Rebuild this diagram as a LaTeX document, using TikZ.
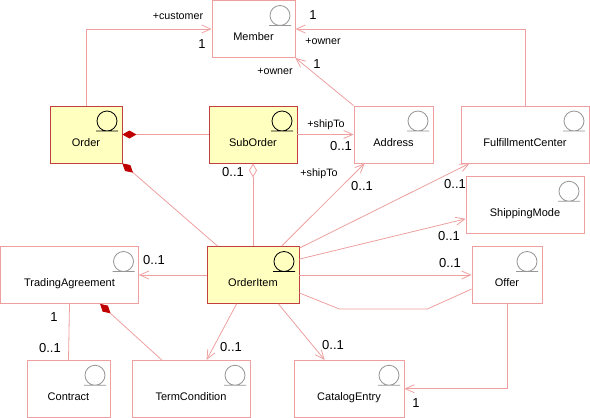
\documentclass[tikz,border=0pt]{standalone}
\usepackage{fontspec}
\setmainfont{Liberation Sans}
\usepackage{tikz}
\usetikzlibrary{arrows.meta,calc}
\definecolor{linkpink}{RGB}{238,160,160}
\definecolor{entyellow}{RGB}{255,255,192}
\definecolor{entborder}{RGB}{192,64,64}
\definecolor{aggred}{RGB}{192,0,0}
\definecolor{icongray}{RGB}{150,150,150}

\begin{document}
\begin{tikzpicture}[x=1pt,y=-1pt,line width=0.8pt]

        \tikzstyle{icon}=[draw=icongray]
        \tikzstyle{entity}=[draw=linkpink, fill=white, minimum height=57pt, inner sep=0pt,
          text height=23pt, text depth=0pt, font=\fontsize{11}{13}\selectfont,
          path picture={\draw[icon] ([xshift=-15pt,yshift=-15pt]path picture bounding box.north east) circle (10pt) ++(-11pt,-10pt) -- ++(22pt,0pt);}]
        \tikzstyle{mainentity}=[entity, draw=entborder, fill=entyellow, icon/.style={draw=black}]
        \tikzstyle{role}=[font=\fontsize{10.7}{12}\selectfont, inner sep=0pt]
        \tikzstyle{mult}=[font=\fontsize{13}{15}\selectfont, inner sep=0pt]
        \tikzstyle{link}=[draw=linkpink]
        \tikzstyle{nav}=[link, -{Straight Barb[length=9pt,width=8pt]}]
        \tikzstyle{comp}=[link, -{Diamond[length=14pt,width=8pt,color=aggred,fill=aggred]}]
        \tikzstyle{aggr}=[link, {Diamond[open,length=14pt,width=8pt]}-]

        \useasboundingbox (0,0) rectangle (590,418);

        \node[entity, minimum width=83pt] (Member) at (253.5,29) {Member};
        \node[mainentity, minimum width=72pt] (Order) at (86,134.5) {Order};
        \node[mainentity, minimum width=88pt] (SubOrder) at (253,134.5) {SubOrder};
        \node[entity, minimum width=79pt] (Address) at (393.5,134.5) {Address};
        \node[entity, minimum width=128pt] (FulfillmentCenter) at (525,134.5) {FulfillmentCenter};
        \node[entity, minimum width=118pt] (ShippingMode) at (525,204.75) {ShippingMode};
        \node[entity, minimum width=138pt] (TradingAgreement) at (69.5,275) {TradingAgreement};
        \node[mainentity, minimum width=92pt] (OrderItem) at (253,275) {OrderItem};
        \node[entity, minimum width=70pt] (Offer) at (507,275) {Offer};
        \node[entity, minimum width=83pt] (Contract) at (68.5,388.75) {Contract};
        \node[entity, minimum width=118pt] (TermCondition) at (191,388.75) {TermCondition};
        \node[entity, minimum width=110pt] (CatalogEntry) at (349,388.75) {CatalogEntry};

        \draw[nav] (Order.north) |- (Member.west);
        \draw[comp] (SubOrder.west) -- (Order.east);
        \draw[comp] ([xshift=11pt]OrderItem.north west) -- (Order.south east);
        \draw[aggr] (SubOrder.south) -- (OrderItem.north);
        \draw[nav] (SubOrder.east) -- (Address.west);
        \draw[nav] (Address.north west) -- (Member.south east);
        \draw[nav] (FulfillmentCenter.north) |- (Member.east);
        \draw[nav] ([xshift=75pt]OrderItem.north west) -- ([xshift=11pt]Address.south west);
        \draw[nav] ([yshift=-2pt]OrderItem.north east) -- ([xshift=9pt]FulfillmentCenter.south west);
        \draw[nav] ([yshift=-13pt]OrderItem.north east) -- ([yshift=-43pt]ShippingMode.north west);
        \draw[nav] (OrderItem.east) -- (Offer.west);
        \draw[link] ([yshift=-18pt]OrderItem.east) -- ++(40,16) -- ++(88,0) -- ([yshift=-14pt]Offer.west);
        \draw[nav] (Offer.south) |- (CatalogEntry.east);
        \draw[nav] ([xshift=-21pt]OrderItem.south east) -- ([xshift=31pt]CatalogEntry.north west);
        \draw[nav] ([xshift=30pt]OrderItem.south west) -- ([xshift=75pt]TermCondition.north west);
        \draw[nav] (OrderItem.west) -- (TradingAgreement.east);
        \draw[link] (TradingAgreement.south) -- (Contract.north);
        \draw[comp] ([xshift=30pt]TermCondition.north west) -- ([xshift=100pt]TradingAgreement.south west);

        \node[role] (custrole) at (178,16) {+customer};
        \node[mult] (custmult) at (202,44) {1};
        \node[role] (adrownerrole) at (275,71) {+owner};
        \node[mult] (adrownermult) at (317,64) {1};
        \node[mult] (fcownermult) at (313,15) {1};
        \node[role] (fcownerrole) at (323,41) {+owner};
        \node[role] (subshiprole) at (326,125) {+shipTo};
        \node[mult] (subshipmult) at (341,146) {0..1};
        \node[mult] (submult) at (233,172) {0..1};
        \node[role] (itemshiprole) at (319,174) {+shipTo};
        \node[mult] (itemshipmult) at (362,186) {0..1};
        \node[mult] (fcmult) at (455,184) {0..1};
        \node[mult] (modemult) at (449,236) {0..1};
        \node[mult] (offermult) at (450,263) {0..1};
        \node[mult] (catmult) at (333,345) {0..1};
        \node[mult] (offercatmult) at (416,403) {1};
        \node[mult] (termmult) at (231,347) {0..1};
        \node[mult] (trademult) at (154,260) {0..1};
        \node[mult] (contractonemult) at (54,317) {1};
        \node[mult] (contractmult) at (50,348) {0..1};

      \end{tikzpicture}
\end{document}
